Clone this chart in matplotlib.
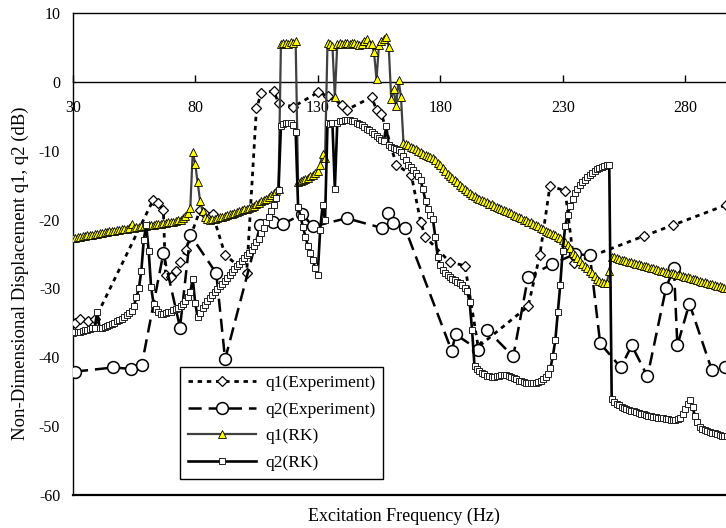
import matplotlib
matplotlib.use("Agg")
import matplotlib.pyplot as plt
import numpy as np

plt.rcParams['font.family'] = ['Liberation Serif', 'DejaVu Serif']
plt.rcParams['lines.scale_dashes'] = False
plt.rcParams['axes.unicode_minus'] = False

# ---------------- data ----------------
rk_freq = list(range(30, 298))

q1_rk = [
    -22.7, -22.65, -22.6, -22.5, -22.45, -22.4, -22.3, -22.25, -22.2, -22.1,   # 30-39
    -22.05, -22.0, -21.9, -21.85, -21.8, -21.7, -21.65, -21.6, -21.5, -21.45,  # 40-49
    -21.4, -21.35, -21.3, -21.25, -20.6, -21.2, -21.1, -21.05, -21.0, -20.95,  # 50-59
    -20.9, -20.85, -20.8, -20.75, -20.7, -20.65, -20.6, -20.55, -20.5, -20.4,  # 60-69
    -20.35, -20.3, -20.2, -20.1, -20.0, -19.8, -19.5, -19.0, -18.3, -10.1,     # 70-79
    -11.9, -14.6, -17.3, -18.8, -19.6, -19.9, -20.0, -19.95, -19.85, -19.75,   # 80-89
    -19.65, -19.55, -19.45, -19.35, -19.25, -19.15, -19.05, -18.9, -18.8, -18.65,  # 90-99
    -18.5, -18.4, -18.25, -18.1, -17.95, -17.75, -17.55, -17.35, -17.15, -16.95,   # 100-109
    -16.7, -16.45, -16.2, -15.8, -15.5, 5.6, 5.7, 5.7, 5.6, 5.8,               # 110-119
    5.7, 5.9, -14.6, -14.4, -14.3, -14.1, -13.9, -13.7, -13.5, -13.2,          # 120-129
    -12.9, -12.0, -10.4, -11.0, 5.7, 5.5, 5.3, -2.2, 5.6, 5.7,                 # 130-139
    5.6, 5.7, 5.7, 5.6, 5.7, 5.7, 5.6, 5.4, 5.6, 5.9,                          # 140-149
    6.3, 5.6, 5.6, 4.3, 0.4, 5.4, 6.0, 6.3, 6.6, 5.1,                          # 150-159
    -2.4, -1.0, -3.5, 0.3, -2.2, -8.8, -9.0, -9.2, -9.4, -9.6,                 # 160-169
    -9.8, -10.0, -10.2, -10.4, -10.6, -10.7, -10.9, -11.1, -11.4, -11.8,       # 170-179
    -12.1, -12.5, -12.9, -13.3, -13.7, -14.0, -14.3, -14.6, -14.9, -15.2,      # 180-189
    -15.5, -15.8, -16.1, -16.4, -16.6, -16.8, -17.0, -17.2, -17.3, -17.5,      # 190-199
    -17.7, -17.8, -18.0, -18.1, -18.3, -18.4, -18.6, -18.8, -18.9, -19.1,      # 200-209
    -19.3, -19.5, -19.6, -19.8, -20.0, -20.1, -20.3, -20.4, -20.6, -20.8,      # 210-219
    -21.0, -21.2, -21.4, -21.6, -21.8, -22.0, -22.1, -22.3, -22.5, -22.7,      # 220-229
    -22.9, -23.3, -23.7, -24.2, -24.8, -25.2, -25.6, -26.0, -26.4, -26.7,      # 230-239
    -27.0, -27.4, -27.8, -28.2, -28.6, -28.9, -29.1, -29.25, -29.2, -27.5,     # 240-249
    -25.4, -25.5, -25.6, -25.7, -25.8, -25.9, -26.0, -26.1, -26.2, -26.3,      # 250-259
    -26.4, -26.5, -26.6, -26.7, -26.8, -26.9, -27.0, -27.1, -27.2, -27.3,      # 260-269
    -27.4, -27.5, -27.6, -27.7, -27.7, -27.8, -27.9, -28.0, -28.1, -28.2,      # 270-279
    -28.3, -28.4, -28.5, -28.6, -28.7, -28.8, -28.9, -29.0, -29.1, -29.2,      # 280-289
    -29.3, -29.4, -29.5, -29.6, -29.7, -29.8, -29.9, -30.0,                    # 290-297
]

q2_rk = [
    -36.5, -36.4, -36.4, -36.3, -36.2, -36.1, -36.0, -35.9, -35.8, -35.7,      # 30-39
    -33.4, -35.8, -35.7, -35.6, -35.5, -35.3, -35.2, -35.0, -34.8, -34.6,      # 40-49
    -34.4, -34.2, -33.9, -33.6, -33.3, -32.5, -31.3, -30.0, -27.5, -23.0,      # 50-59
    -20.8, -24.5, -29.8, -32.2, -33.0, -33.5, -33.7, -33.7, -33.6, -33.5,      # 60-69
    -33.4, -33.2, -33.0, -32.8, -32.5, -32.2, -31.8, -31.2, -30.5, -28.6,      # 70-79
    -32.1, -34.2, -33.6, -32.9, -32.4, -31.9, -31.4, -30.9, -30.5, -30.1,      # 80-89
    -29.7, -29.3, -28.9, -28.5, -28.1, -27.6, -27.2, -26.8, -26.4, -26.0,      # 90-99
    -25.6, -25.2, -24.9, -24.4, -23.9, -23.3, -22.8, -22.0, -21.2, -20.4,      # 100-109
    -19.6, -18.8, -17.9, -16.8, -15.7, -6.4, -6.1, -5.9, -6.0, -5.9,           # 110-119
    -6.2, -7.2, -18.1, -19.6, -21.1, -22.5, -23.8, -24.9, -25.9, -27.1,        # 120-129
    -28.0, -21.5, -17.9, -20.0, -6.0, -6.1, -6.0, -15.5, -5.9, -5.7,           # 130-139
    -5.6, -5.5, -5.5, -5.5, -5.6, -5.7, -5.9, -6.1, -6.3, -6.5,                # 140-149
    -6.8, -7.0, -7.3, -7.6, -7.9, -8.2, -8.4, -8.6, -6.4, -9.2,                # 150-159
    -9.4, -9.6, -9.7, -9.9, -10.2, -10.8, -11.3, -12.0, -12.4, -12.8,          # 160-169
    -13.2, -13.6, -14.3, -15.6, -17.3, -18.4, -19.3, -19.9, -22.5, -25.5,      # 170-179
    -26.6, -27.3, -27.8, -28.1, -28.4, -28.6, -28.8, -29.0, -29.2, -29.5,      # 180-189
    -29.9, -30.4, -32.0, -36.0, -41.3, -41.7, -42.0, -42.3, -42.5, -42.7,      # 190-199
    -42.8, -42.9, -42.9, -42.8, -42.7, -42.6, -42.6, -42.6, -42.7, -42.9,      # 200-209
    -43.1, -43.2, -43.4, -43.5, -43.6, -43.7, -43.8, -43.8, -43.8, -43.7,      # 210-219
    -43.6, -43.4, -43.2, -42.9, -42.4, -41.6, -39.8, -37.5, -33.5, -29.5,      # 220-229
    -24.5, -21.0, -19.3, -18.0, -17.0, -16.2, -15.5, -15.0, -14.6, -14.2,      # 230-239
    -13.8, -13.5, -13.2, -12.9, -12.7, -12.5, -12.3, -12.2, -12.1, -12.1,      # 240-249
    -46.1, -46.5, -46.8, -47.0, -47.2, -47.4, -47.5, -47.7, -47.8, -47.9,      # 250-259
    -48.0, -48.1, -48.2, -48.3, -48.4, -48.5, -48.6, -48.7, -48.7, -48.8,      # 260-269
    -48.9, -48.9, -49.0, -49.0, -49.1, -49.1, -49.1, -49.0, -48.8, -48.3,      # 270-279
    -47.5, -46.8, -46.2, -47.3, -48.6, -49.5, -50.1, -50.4, -50.6, -50.8,      # 280-289
    -50.9, -51.0, -51.1, -51.2, -51.3, -51.4, -51.5, -51.5,                    # 290-297
]

q1_exp_freq = [30.9, 33.0, 36.4, 39.1, 62.9, 64.9, 67.0, 67.9, 70.2, 72.2,
               73.9, 76.1, 82.0, 83.4, 87.1, 92.2, 101.0, 105.0, 107.0, 112.0,
               114.0, 120.0, 130.1, 134.0, 140.0, 142.0, 152.0, 154.0, 156.0, 162.1,
               168.2, 172.0, 173.9, 184.0, 190.1, 195.5, 215.9, 220.7, 224.8, 231.0,
               234.6, 263.0, 275.0, 296.5]
q1_exp = [-35.0, -34.5, -34.8, -34.5, -17.1, -17.6, -18.6, -28.0, -28.3, -27.5,
          -26.1, -24.4, -18.6, -19.0, -19.2, -25.1, -27.8, -3.8, -1.6, -1.3,
          -3.0, -3.6, -1.5, -2.0, -3.3, -4.0, -2.2, -4.0, -4.6, -12.0,
          -13.5, -20.3, -22.5, -26.2, -26.7, -38.5, -32.6, -25.1, -15.1, -15.8,
          -26.3, -22.4, -20.8, -17.9]

q2_exp_freq = [30.9, 46.6, 53.6, 58.2, 67.0, 73.8, 78.0, 88.6, 92.2, 106.6,
               111.9, 116.0, 123.7, 128.1, 141.8, 156.1, 158.8, 160.9, 165.6, 184.7,
               186.3, 195.5, 199.0, 209.8, 215.9, 225.5, 235.0, 241.1, 245.3, 253.7,
               258.2, 264.6, 272.2, 275.4, 276.8, 281.7, 290.8, 296.3]
q2_exp = [-42.1, -41.5, -41.7, -41.1, -24.9, -35.7, -22.2, -27.8, -40.3, -20.8,
          -20.3, -20.6, -19.2, -21.0, -19.8, -21.2, -19.0, -20.5, -21.2, -39.1,
          -36.7, -38.9, -36.0, -39.9, -28.3, -26.5, -25.0, -25.2, -38.0, -41.5,
          -38.3, -42.8, -29.9, -27.0, -38.3, -32.2, -41.8, -41.5]

x_ticks = [30, 80, 130, 180, 230, 280]
y_ticks = [-60, -50, -40, -30, -20, -10, 0, 10]

# ---------------- figure ----------------
W, H = 726, 528
fig = plt.figure(figsize=(W / 100, H / 100), dpi=100)
left_px, right_px, top_px, bot_px = 72.7, 734.2, 13.3, 494.7
ax = fig.add_axes([left_px / W, 1 - bot_px / H, (right_px - left_px) / W, (bot_px - top_px) / H])
ax.set_xlim(30, 300)
ax.set_ylim(-60, 10)

ax.plot(q1_exp_freq, q1_exp, color='black', lw=2.0, dashes=(3.2, 3.4),
        marker='D', ms=4.9, mfc='white', mec='black', mew=0.9,
        label='q1(Experiment)', zorder=3)
ax.plot(q2_exp_freq, q2_exp, color='black', lw=1.8, dashes=(9.5, 5.0),
        marker='o', ms=8.5, mfc='white', mec='black', mew=1.1,
        label='q2(Experiment)', zorder=3)
ax.plot(rk_freq, q1_rk, color='#404040', lw=1.6,
        marker='^', ms=5.4, mfc='#ffff00', mec='black', mew=0.6,
        label='q1(RK)', zorder=4)
ax.plot(rk_freq, q2_rk, color='black', lw=1.9,
        marker='s', ms=4.7, mfc='white', mec='#202020', mew=0.7,
        label='q2(RK)', zorder=5)

# axes styling
ax.spines['right'].set_visible(False)
ax.spines['bottom'].set_position(('data', 0))
for s in ['left', 'top', 'bottom']:
    ax.spines[s].set_linewidth(1.0)
ax.axhline(-60, color='black', lw=1.6, clip_on=False, zorder=6)

ax.set_xticks(x_ticks)
ax.set_yticks(y_ticks)
ax.tick_params(axis='x', direction='in', length=5, width=1.0, pad=13, labelsize=11.5)
ax.tick_params(axis='y', length=0, pad=9, labelsize=11.5)

fig.text((left_px + right_px) / 2 / W, 1 - 516 / H, 'Excitation Frequency (Hz)',
         ha='center', va='center', fontsize=13)
fig.text(20 / W, 1 - 273 / H, 'Non-Dimensional Displacement q1, q2 (dB)',
         ha='center', va='center', rotation=90, fontsize=13.5)

leg = ax.legend(loc='upper left', bbox_to_anchor=(180 / W, 1 - 366.7 / H),
                bbox_transform=fig.transFigure, fontsize=12.5, numpoints=1,
                handlelength=3.9, handletextpad=0.55, labelspacing=0.62,
                borderpad=0.45, borderaxespad=0.0, fancybox=False,
                framealpha=1.0, edgecolor='black')
leg.get_frame().set_linewidth(1.0)
leg.set_zorder(10)

fig.savefig('out.png', dpi=100)
